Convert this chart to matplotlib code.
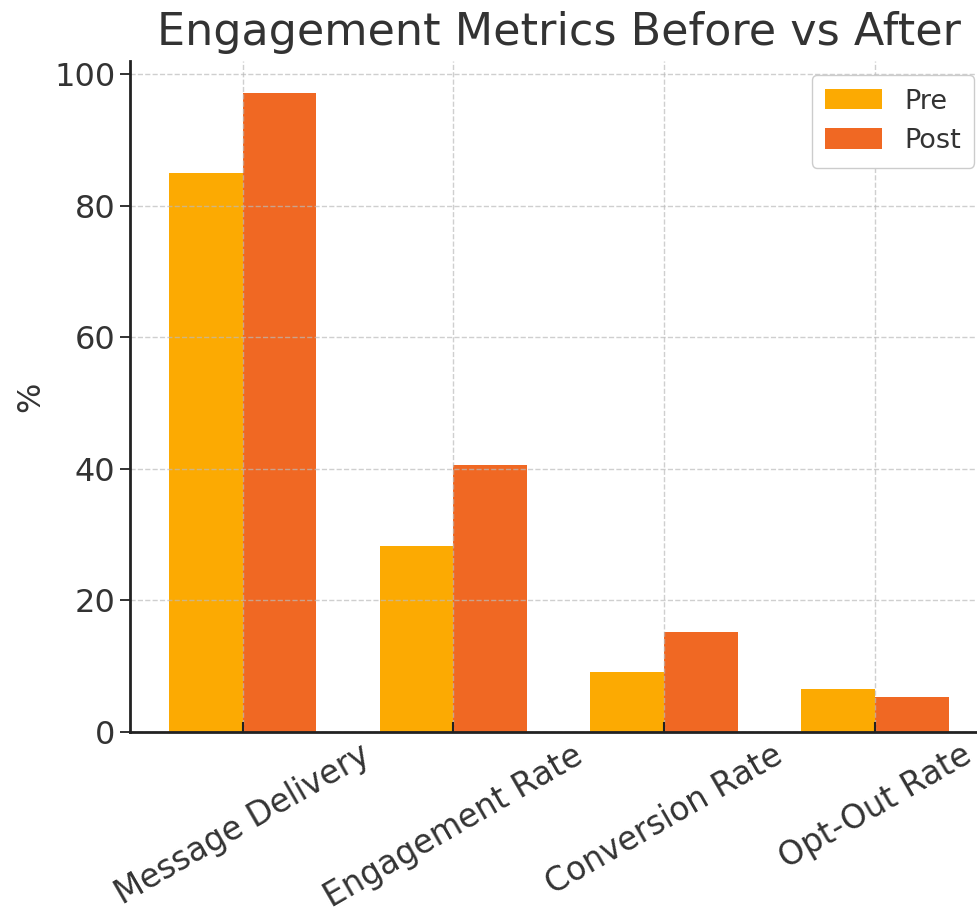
import numpy as np
import matplotlib
matplotlib.use("Agg")
from matplotlib import pyplot as plt

metrics = ["Message Delivery", "Engagement Rate", "Conversion Rate", "Opt-Out Rate"]
pre_values = [85.0, 28.3, 9.1, 6.5]
post_values = [97.1, 40.6, 15.2, 5.3]
series_names = ["Pre", "Post"]

pre_color = "#FCAA02"
post_color = "#F06823"

fig = plt.figure(figsize=(9.77, 9.17), dpi=100)
ax = fig.add_axes([0.133, 0.202, 0.878, 0.731])

x = np.arange(len(metrics))
width = 0.35
ax.bar(x - width / 2, pre_values, width, label=series_names[0], color=pre_color)
ax.bar(x + width / 2, post_values, width, label=series_names[1], color=post_color)

ax.set_xticks(x)
ax.set_xticklabels(metrics, rotation=30, fontsize=23.5, color="#333333")
ax.tick_params(axis="y", labelsize=23, labelcolor="#333333", length=7, width=1.3, color="#222222")
ax.tick_params(axis="x", direction="in", length=7, width=1.5, color="#222222", pad=5)
ax.set_yticks([0, 20, 40, 60, 80, 100])

ax.set_ylabel("%", fontsize=23, color="#333333", labelpad=6)
ax.set_title("Engagement Metrics Before vs After", fontsize=32, color="#333333", pad=12)

ax.grid(True, linestyle="--", color="#bbbbbb", alpha=0.7, linewidth=1)
for side in ["top", "right"]:
    ax.spines[side].set_visible(False)
for side in ["left", "bottom"]:
    ax.spines[side].set_linewidth(2)
    ax.spines[side].set_color("#222222")

ax.legend(loc="upper right", fontsize=19.5, handlelength=2.1, handleheight=0.8, framealpha=1,
          edgecolor="#cccccc", borderaxespad=0.5, labelcolor="#333333", borderpad=0.5)

fig.savefig("out.png", dpi=100)
